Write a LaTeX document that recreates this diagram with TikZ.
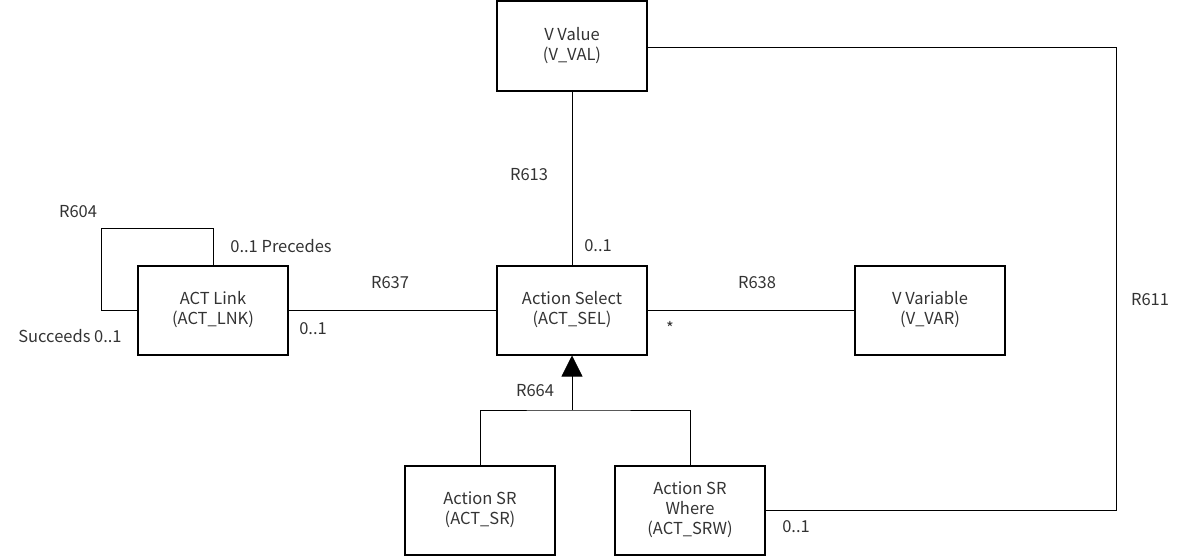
\documentclass[tikz,border=0pt]{standalone}
\usepackage{fontspec}
\setmainfont{Noto Sans CJK JP}
\usetikzlibrary{arrows.meta}
\definecolor{txtgray}{HTML}{333333}
\tikzset{
  classbox/.style={draw, line width=2pt, minimum width=150pt, minimum height=89pt,
    align=center, text=txtgray, font=\fontsize{16.5}{20}\selectfont},
  lbl/.style={text=txtgray, font=\fontsize{16.5}{20}\selectfont, inner sep=0pt},
  rel/.style={line width=0.8pt}
}
\begin{document}
\begin{tikzpicture}[x=1pt,y=-1pt]
    \useasboundingbox (0,0) rectangle (1187,557);
    % Classes
    \node[classbox, minimum height=90pt] (vval) at (572,46) {V Value\\(V\_VAL)};
    \node[classbox] (actlnk) at (213,310) {ACT Link\\(ACT\_LNK)};
    \node[classbox] (actsel) at (572,310) {Action Select\\(ACT\_SEL)};
    \node[classbox] (vvar) at (930,310) {V Variable\\(V\_VAR)};
    \node[classbox] (actsr) at (480,510) {Action SR\\(ACT\_SR)};
    \node[classbox] (actsrw) at (690,510) {Action SR\\Where\\(ACT\_SRW)};
    % Helper points
    \coordinate (r604) at (101,228);
    \coordinate (gen) at (572,410);
    \coordinate (r611) at (1116,47);
    % Associations
    \draw[rel] (vval.south) -- (actsel.north);
    \draw[rel] (actlnk.east) -- (actsel.west);
    \draw[rel] (actsel.east) -- (vvar.west);
    \draw[rel] (actlnk.north) |- (r604) |- (actlnk.west);
    \draw[rel] (vval.east |- r611) -- (r611) |- (actsrw.east);
    % Subtypes
    \draw[rel] (actsr.north) |- (gen) -| (actsrw.north);
    \draw[rel, -{Triangle[width=21pt,length=21pt]}] (gen) -- (actsel.south);
    % Labels
    \node[lbl] (l613) at (529,175) {R613};
    \node[lbl] (m613) at (598,246) {0..1};
    \node[lbl] (l637) at (390,283) {R637};
    \node[lbl] (m637) at (313,329) {0..1};
    \node[lbl] (l638) at (757,283) {R638};
    \node[lbl] (m638) at (670,328) {*};
    \node[lbl] (l604) at (78,212) {R604};
    \node[lbl] (m604a) at (281,246) {0..1 Precedes};
    \node[lbl] (m604b) at (70,336) {Succeeds 0..1};
    \node[lbl] (l664) at (535,391) {R664};
    \node[lbl] (l611) at (1150,300) {R611};
    \node[lbl] (m611) at (796,527) {0..1};
\end{tikzpicture}
\end{document}
